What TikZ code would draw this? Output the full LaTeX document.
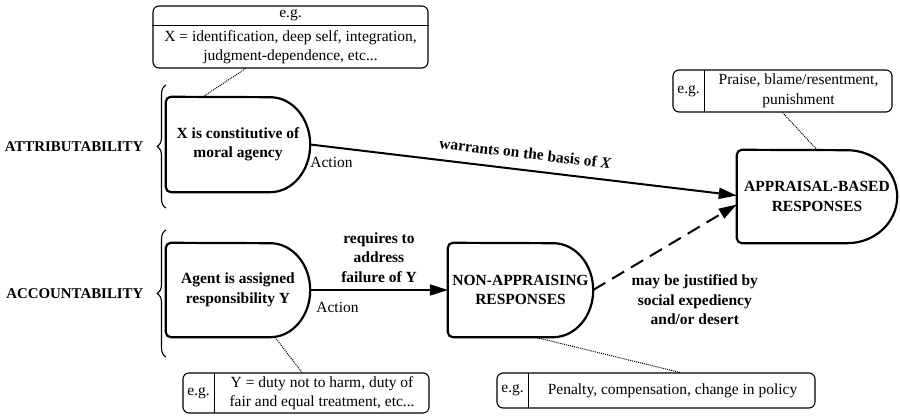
\documentclass[tikz,border=0pt]{standalone}
\usepackage{fontspec}
\setmainfont{Liberation Serif}
\usepackage{tikz}
\usetikzlibrary{positioning, arrows.meta, decorations.pathreplacing}
\newcommand{\figfont}{\fontsize{15.5}{19.5}\selectfont}

\tikzset{
  dshape/.style={inner sep=0pt, align=center, font=\figfont\bfseries},
  dline/.style={line width=2.2pt},
  egbox/.style={draw, line width=1.1pt, rounded corners=6pt, inner sep=0pt},
  eglab/.style={anchor=west, minimum width=32pt, inner sep=0pt},
  egtext/.style={inner sep=0pt, align=center},
  lbl/.style={font=\figfont\bfseries},
  conn/.style={line width=2pt, -{Triangle[length=18pt, width=11pt]}},
  dots/.style={densely dotted, line width=1pt},
  brc/.style={decorate, decoration={brace, amplitude=9pt}, line width=1.1pt},
  side/.style={anchor=east, xshift=-22pt, inner sep=0pt, font=\fontsize{14.9}{17}\selectfont\bfseries}
}

\begin{document}
\begin{tikzpicture}[x=1pt, y=1pt, font=\figfont, line join=round]
  \useasboundingbox (0,0) rectangle (900,417);

  \draw[brc] (166,209) -- (166,332) node[midway, side] (attrlab) {ATTRIBUTABILITY};
  \draw[brc] (166,60) -- (166,187) node[midway, side] (acclab) {ACCOUNTABILITY};

  \node[dshape, minimum width=144pt, minimum height=95pt] (attr) at (238,272.5) {X is constitutive of\\moral agency};
  \node[dshape, minimum width=144pt, minimum height=94pt] (acc) at (238,127) {Agent is assigned\\responsibility Y};
  \node[dshape, minimum width=145pt, minimum height=94pt] (nonapp) at (520.5,127) {NON-APPRAISING\\RESPONSES};
  \node[dshape, minimum width=160pt, minimum height=93pt] (app) at (817,220.5) {APPRAISAL-BASED\\RESPONSES};
  \foreach \n/\rx/\ry in {attr/40/47.5, acc/40/47, nonapp/40/47, app/50/46.5}
    \draw[dline] ([xshift=-\rx]\n.south east) arc[start angle=-90, end angle=90, x radius=\rx, y radius=\ry]
      -- ([xshift=5]\n.north west) arc[start angle=90, end angle=180, radius=5]
      -- ([yshift=5]\n.south west) arc[start angle=180, end angle=270, radius=5] -- cycle;

  % e.g. boxes
  \node[egbox, minimum width=275pt, minimum height=62pt] (egx) at (290.5,380) {};
  \node[anchor=north, minimum height=20pt, inner sep=0pt] (egxlab) at (egx.north) {e.g.};
  \draw[line width=1.1pt] (egx.west |- egxlab.south) -- (egx.east |- egxlab.south);
  \node[egtext, anchor=north, minimum height=42pt] (egxtxt) at (egxlab.south) {X = identification, deep self, integration,\\judgment-dependence, etc...};

  \node[egbox, minimum width=219pt, minimum height=42pt] (egp) at (782.5,326) {};
  \node[eglab, minimum height=42pt] (egplab) at (egp.west) {e.g.};
  \draw[line width=1.1pt] (egplab.north east) -- (egplab.south east);
  \node[egtext, right=0pt of egplab, minimum width=187pt] (egptxt) {Praise, blame/resentment,\\punishment};

  \node[egbox, minimum width=246pt, minimum height=40pt] (egy) at (306,24) {};
  \node[eglab, minimum height=40pt] (egylab) at (egy.west) {e.g.};
  \draw[line width=1.1pt] (egylab.north east) -- (egylab.south east);
  \node[egtext, right=0pt of egylab, minimum width=214pt] (egytxt) {Y = duty not to harm, duty of\\fair and equal treatment, etc...};

  \node[egbox, minimum width=318pt, minimum height=35pt] (egpol) at (656,26.5) {};
  \node[eglab, minimum height=35pt] (egpollab) at (egpol.west) {e.g.};
  \draw[line width=1.1pt] (egpollab.north east) -- (egpollab.south east);
  \node[egtext, right=0pt of egpollab, minimum width=287pt] (egpoltxt) {Penalty, compensation, change in policy};

  % connectors
  \draw[conn] (attr.east) -- ([yshift=1]app.west)
    node[midway, sloped, above=7pt, lbl] (warr) {warrants on the basis of \textit{X}};
  \draw[conn] (acc.east) -- (nonapp.west)
    node[midway, above=3pt, lbl, align=center] (req) {requires to\\address\\failure of Y};
  \draw[conn, dash pattern=on 14pt off 8pt] (nonapp.east) -- ([yshift=-8]app.west);
  \node[lbl, align=center, right=35pt of nonapp, yshift=-10pt] (just) {may be justified by\\social expediency\\and/or desert};

  \node[anchor=west, inner sep=0pt] (act1) at ([yshift=-18]attr.east) {Action};
  \node[anchor=west, inner sep=0pt] (act2) at ([xshift=6, yshift=-17]acc.east) {Action};

  \draw[dots] ([xshift=-45]egx.south) -- ([xshift=-35]attr.north);
  \draw[dots] ([xshift=37]acc.south) -- ([xshift=-4]egy.north);
  \draw[dots] (egp.south) -- (app.north);
  \draw[dots] ([xshift=14.5]nonapp.south) -- ([xshift=24]egpol.north);
\end{tikzpicture}
\end{document}
